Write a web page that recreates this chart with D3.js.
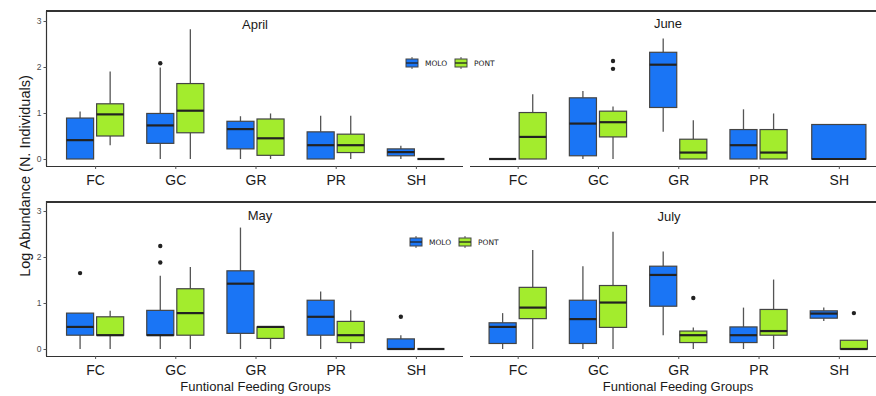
<!DOCTYPE html>
<html><head><meta charset="utf-8">
<script src="https://cdn.jsdelivr.net/npm/d3@7"></script>
<style>body{margin:0;background:#fff}svg{display:block}</style>
</head><body><svg id="c" width="876" height="396"></svg>
<script>
// ---- data (five-number summaries: [lowerWhisker, Q1, median, Q3, upperWhisker]) ----
const groups = ["FC","GC","GR","PR","SH"];
const sites = ["MOLO","PONT"];
const yTicks = [0,1,2,3];
const months = ["April","June","May","July"];

const aprilMolo = [[0,0,0.41,0.89,1.03],[0,0.34,0.73,0.99,1.99],[0,0.22,0.65,0.82,0.93],[0,0,0.30,0.59,0.94],[0,0.07,0.15,0.22,0.29]];
const aprilPont = [[0.30,0.50,0.97,1.20,1.90],[0,0.57,1.05,1.64,2.82],[0,0.08,0.45,0.87,0.99],[0,0.14,0.30,0.54,0.94],[0,0,0,0,0]];
const aprilOut = [[],[[1,0,2.08]],[],[],[]];

const juneMolo = [[0,0,0,0,0],[0,0.07,0.77,1.33,1.48],[0.59,1.12,2.05,2.32,2.62],[0,0,0.30,0.64,1.08],[0,0,0,0.75,0.75]];
const junePont = [[0,0,0.48,1.01,1.41],[0,0.48,0.80,1.04,1.14],[0,0,0.14,0.43,0.84],[0,0,0.14,0.64,0.99],null];
const juneOut = [[],[[1,1,2.13],[1,1,1.96]],[],[],[]];

const mayMolo = [[0,0.30,0.48,0.78,0.78],[0,0.30,0.30,0.84,1.59],[0,0.34,1.42,1.70,2.64],[0,0.30,0.70,1.06,1.25],[0,0,0,0.22,0.30]];
const mayPont = [[0,0.30,0.30,0.70,0.83],[0,0.30,0.78,1.31,1.78],[0,0.23,0.48,0.48,0.48],[0,0.14,0.30,0.60,0.84],[0,0,0,0,0]];
const mayOut = [[[0,0,1.65]],[[1,0,2.24],[1,0,1.88]],[],[],[[4,0,0.70]]];

const julyMolo = [[0,0.12,0.48,0.57,0.78],[0,0.12,0.65,1.06,1.80],[0.30,0.93,1.61,1.80,2.12],[0,0.14,0.30,0.48,0.90],[0.61,0.67,0.77,0.83,0.90]];
const julyPont = [[0,0.66,0.90,1.34,2.15],[0,0.47,1.01,1.38,2.55],[0,0.14,0.30,0.39,0.47],[0,0.30,0.39,0.86,1.51],[0,0,0,0.19,0.19]];
const julyOut = [[],[],[[2,1,1.11]],[],[[4,1,0.78]]];

const colors = {MOLO:"#1a75f5", PONT:"#a3ec2d"};

// ---- layout ----
const svg = d3.select("#c");
const font = "'Liberation Sans', Arial, sans-serif";
const panels = [
  {name:"April", molo:aprilMolo, pont:aprilPont, out:aprilOut, x0:47, x1:464, y0:159, y3:21, left:true, tx:255, ty:29, legend:[406,63]},
  {name:"June", molo:juneMolo, pont:junePont, out:juneOut, x0:469.5, x1:887, y0:159, y3:21, left:false, tx:668, ty:28},
  {name:"May", molo:mayMolo, pont:mayPont, out:mayOut, x0:47, x1:464, y0:349, y3:211, left:true, tx:260, ty:220, legend:[410,242]},
  {name:"July", molo:julyMolo, pont:julyPont, out:julyOut, x0:469.5, x1:887, y0:349, y3:211, left:false, tx:669, ty:221}
];

// top frame lines
[11,202].forEach(y=>svg.append("line").attr("x1",46).attr("x2",876).attr("y1",y).attr("y2",y)
  .attr("stroke","#333").attr("stroke-width",2.2));

panels.forEach(p=>{
  const x = d3.scalePoint().domain(groups).range([p.x0,p.x1]).padding(0.6);
  const y = d3.scaleLinear().domain([0,3]).range([p.y0,p.y3]);
  const step = x.step();
  const g = svg.append("g");
  const axisY = p.y0 + 7;

  // x axis
  const xa = g.append("g").attr("transform",`translate(0,${axisY})`)
    .call(d3.axisBottom(x).tickSize(3).tickSizeOuter(0));
  xa.select(".domain").attr("stroke","#333").attr("stroke-width",1.2)
    .attr("d", p.left ? `M${p.x0-1},0.5H463` : `M470,0.5H876`);
  xa.selectAll(".tick line").attr("stroke","#555");
  xa.selectAll(".tick text").attr("font-family",font).attr("font-size",14).attr("fill","#1a1a1a").attr("dy","0.95em");

  // y axis
  if(p.left){
    const ya = g.append("g").attr("transform","translate(46.5,0)")
      .call(d3.axisLeft(y).tickValues(yTicks).tickFormat(d3.format("d")).tickSize(3).tickSizeOuter(0));
    ya.select(".domain").attr("stroke","#333").attr("stroke-width",1.2)
      .attr("d",`M0,${p.y3-10}V${axisY}`);
    ya.selectAll(".tick line").attr("stroke","#555");
    ya.selectAll(".tick text").attr("font-family",font).attr("font-size",8.5).attr("fill","#4d4d4d").attr("x",-5);
  }

  // boxes
  groups.forEach((cat,i)=>{
    const present = sites.filter(s=>(s==="MOLO"?p.molo:p.pont)[i]);
    const n = present.length;
    const slot = 0.75*step/n;
    present.forEach((s,k)=>{
      const st = (s==="MOLO"?p.molo:p.pont)[i];
      const cx = x(cat) - 0.375*step + slot*(k+0.5);
      const w = slot*0.9;
      const [lo,q1,md,q3,hi] = st;
      g.append("line").attr("x1",cx).attr("x2",cx).attr("y1",y(q3)).attr("y2",y(hi)).attr("stroke","#555").attr("stroke-width",1.3);
      g.append("line").attr("x1",cx).attr("x2",cx).attr("y1",y(q1)).attr("y2",y(lo)).attr("stroke","#555").attr("stroke-width",1.3);
      g.append("rect").attr("x",cx-w/2).attr("width",w).attr("y",y(q3)).attr("height",Math.max(0,y(q1)-y(q3)))
        .attr("fill",colors[s]).attr("stroke","#444").attr("stroke-width",1.2);
      g.append("line").attr("x1",cx-w/2).attr("x2",cx+w/2).attr("y1",y(md)).attr("y2",y(md)).attr("stroke","#222").attr("stroke-width",2.2);
    });
    p.out[i].forEach(o=>{
      const [ci,si,v] = o;
      const cx = x(groups[ci]) - 0.375*step + (0.75*step/2)*(si+0.5);
      g.append("circle").attr("cx",cx).attr("cy",y(v)).attr("r",2.2).attr("fill","#222");
    });
  });

  // title
  g.append("text").attr("x",p.tx).attr("y",p.ty).attr("text-anchor","middle")
    .attr("font-family",font).attr("font-size",13).attr("fill","#1a1a1a").text(p.name);

  // legend
  if(p.legend){
    const [lx,ly] = p.legend;
    const offs = [0,49];
    sites.forEach((s,k)=>{
      const kx = lx + offs[k];
      g.append("line").attr("x1",kx+6).attr("x2",kx+6).attr("y1",ly-6).attr("y2",ly+6).attr("stroke","#555").attr("stroke-width",1);
      g.append("rect").attr("x",kx).attr("y",ly-4).attr("width",12).attr("height",8).attr("fill",colors[s]).attr("stroke","#444").attr("stroke-width",1);
      g.append("line").attr("x1",kx).attr("x2",kx+12).attr("y1",ly).attr("y2",ly).attr("stroke","#222").attr("stroke-width",1.3);
      g.append("text").attr("x",kx+19).attr("y",ly+3).attr("font-family","'DejaVu Sans', sans-serif").attr("font-size",7.5)
        .attr("fill","#1a1a1a").text(s);
    });
  }
});

// axis titles
svg.append("text").attr("transform","translate(30,176) rotate(-90)").attr("text-anchor","middle")
  .attr("font-family",font).attr("font-size",14.5).attr("fill","#1a1a1a").text("Log Abundance (N. Individuals)");
[[255.5,391],[678,391]].forEach(([cx,cy])=>svg.append("text").attr("x",cx).attr("y",cy).attr("text-anchor","middle")
  .attr("font-family",font).attr("font-size",13).attr("fill","#1a1a1a").text("Funtional Feeding Groups"));
</script></body></html>
